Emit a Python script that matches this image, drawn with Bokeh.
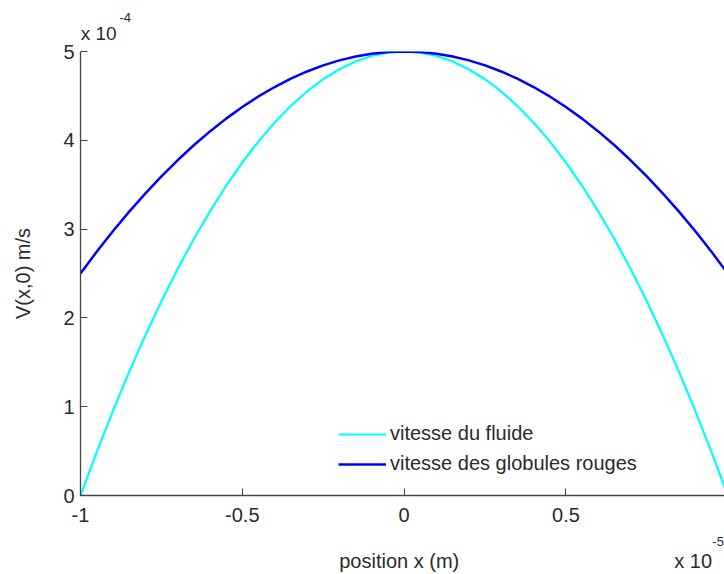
from bokeh.plotting import figure
from bokeh.models import FixedTicker, Legend, LegendItem, LinearAxis
from bokeh.embed import file_html
from bokeh.resources import INLINE

# position x in units of 1e-5 m
x_pos = [-1.0, -0.95, -0.9, -0.85, -0.8, -0.75, -0.7, -0.65, -0.6, -0.55, -0.5,
         -0.45, -0.4, -0.35, -0.3, -0.25, -0.2, -0.15, -0.1, -0.05, 0.0,
         0.05, 0.1, 0.15, 0.2, 0.25, 0.3, 0.35, 0.4, 0.45, 0.5,
         0.55, 0.6, 0.65, 0.7, 0.75, 0.8, 0.85, 0.9, 0.95, 1.0]
# velocities in units of 1e-4 m/s
v_fluide = [0.0, 0.488, 0.95, 1.388, 1.80, 2.188, 2.55, 2.888, 3.20, 3.488, 3.75,
            3.988, 4.20, 4.388, 4.55, 4.688, 4.80, 4.888, 4.95, 4.988, 5.0,
            4.988, 4.95, 4.888, 4.80, 4.688, 4.55, 4.388, 4.20, 3.988, 3.75,
            3.488, 3.20, 2.888, 2.55, 2.188, 1.80, 1.388, 0.95, 0.488, 0.0]
v_globules = [2.50, 2.744, 2.975, 3.194, 3.40, 3.594, 3.775, 3.944, 4.10, 4.244, 4.375,
              4.494, 4.60, 4.694, 4.775, 4.844, 4.90, 4.944, 4.975, 4.994, 5.0,
              4.994, 4.975, 4.944, 4.90, 4.844, 4.775, 4.694, 4.60, 4.494, 4.375,
              4.244, 4.10, 3.944, 3.775, 3.594, 3.40, 3.194, 2.975, 2.744, 2.50]

series_names = ["vitesse du fluide", "vitesse des globules rouges"]
x_ticks = [-1, -0.5, 0, 0.5, 1]
x_tick_labels = ["-1", "-0.5", "0", "0.5", "1"]
y_ticks = [0, 1, 2, 3, 4, 5]
y_tick_labels = ["0", "1", "2", "3", "4", "5"]
x_title = "position x (m)"
y_title = "V(x,0) m/s"
x_scale_text = ["x 10", "-5"]
y_scale_text = ["x 10", "-4"]

FONT = "Liberation Sans"
TXT = "#2b2b2b"
AX = "#444444"

p = figure(width=724, height=574, output_backend="svg", toolbar_location=None,
           x_range=(-1, 0.99), y_range=(0, 5),
           min_border_left=80, min_border_right=0, min_border_top=51, min_border_bottom=79)
p.title.visible = False
p.outline_line_color = None
p.grid.visible = False
p.background_fill_color = "white"
p.border_fill_color = "white"

r1 = p.line(x_pos, v_fluide, line_color="#00FFFF", line_width=2.2)
r2 = p.line(x_pos, v_globules, line_color="#0000FF", line_width=2.5)

for ax in (p.xaxis[0], p.yaxis[0]):
    ax.axis_line_color = AX
    ax.axis_line_width = 1.3
    ax.major_tick_line_color = AX
    ax.major_tick_in = 7
    ax.major_tick_out = 0
    ax.minor_tick_line_color = None
    ax.major_label_text_font = FONT
    ax.major_label_text_font_size = "20px"
    ax.major_label_text_color = TXT

p.xaxis[0].ticker = FixedTicker(ticks=x_ticks)
p.xaxis[0].major_label_overrides = dict(zip(x_ticks, x_tick_labels))
p.xaxis[0].major_label_standoff = 12
p.yaxis[0].ticker = FixedTicker(ticks=y_ticks)
p.yaxis[0].major_label_overrides = dict(zip(y_ticks, y_tick_labels))
p.yaxis[0].major_label_standoff = 6
p.yaxis[0].axis_label = y_title
p.yaxis[0].axis_label_standoff = 26
p.yaxis[0].axis_label_text_font = FONT
p.yaxis[0].axis_label_text_font_size = "20px"
p.yaxis[0].axis_label_text_font_style = "normal"
p.yaxis[0].axis_label_text_color = TXT


def text_axis(side, positions, labels, size, standoff):
    a = LinearAxis(ticker=FixedTicker(ticks=positions),
                   major_label_overrides=dict(zip(positions, labels)))
    a.axis_line_color = None
    a.major_tick_line_color = None
    a.minor_tick_line_color = None
    a.major_tick_in = 0
    a.major_tick_out = 0
    a.major_label_standoff = standoff
    a.major_label_text_font = FONT
    a.major_label_text_font_size = size
    a.major_label_text_color = TXT
    p.add_layout(a, side)


# bottom: superscript row, then title row with scale factor
text_axis("below", [0.974], [x_scale_text[1]], "13px", 12)
text_axis("below", [-0.015, 0.893], [x_title, x_scale_text[0]], "20px", 1)
# top: scale factor of y axis
text_axis("above", [-0.944], [y_scale_text[0]], "19px", 8)
text_axis("above", [-0.862], [y_scale_text[1]], "13px", -2)

legend = Legend(items=[LegendItem(label=series_names[0], renderers=[r1]),
                       LegendItem(label=series_names[1], renderers=[r2])],
                location=(258, 20))
legend.border_line_color = None
legend.background_fill_alpha = 0
legend.padding = 0
legend.margin = 0
legend.spacing = 7
legend.glyph_width = 48
legend.glyph_height = 20
legend.label_height = 20
legend.label_standoff = 4
legend.label_text_font = FONT
legend.label_text_font_size = "20px"
legend.label_text_color = TXT
p.add_layout(legend)

open("out.html", "w").write(file_html(p, INLINE))
